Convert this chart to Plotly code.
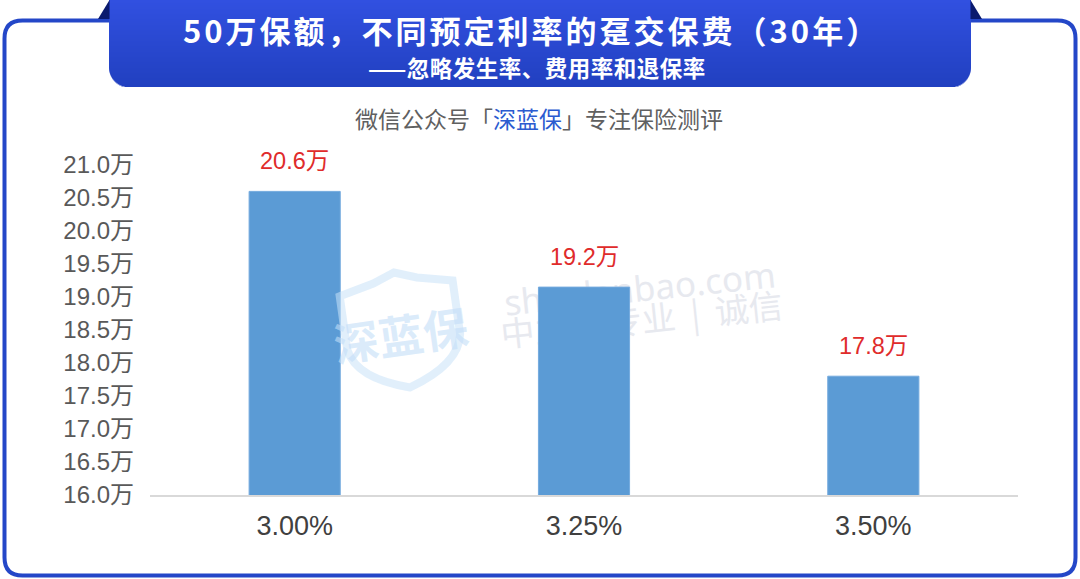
import math
import plotly.graph_objects as go

# ---- data ----
categories = ["3.00%", "3.25%", "3.50%"]
premiums = [20.6, 19.15, 17.8]          # 万元
premium_labels = ["20.6万", "19.2万", "17.8万"]
y_ticks = [16.0, 16.5, 17.0, 17.5, 18.0, 18.5, 19.0, 19.5, 20.0, 20.5, 21.0]
y_tick_text = [f"{v:.1f}万" for v in y_ticks]

title = "50万保额，不同预定利率的趸交保费（30年）"
subtitle = "——忽略发生率、费用率和退保率"

# ---- geometry helpers (pixel -> paper) ----
W, H = 1080, 579
L, R, T, B = 150, 62, 165, 84
PW, PH = W - L - R, H - T - B


def px(x):
    return (x - L) / PW


def py(y):
    return (H - B - y) / PH


CJK = "Noto Sans CJK SC"
NUMF = "Liberation Sans, Noto Sans CJK SC"

fig = go.Figure()
fig.add_trace(go.Bar(
    x=categories, y=premiums,
    marker=dict(color="#5B9BD5", line=dict(color="#74aade", width=1)),
    width=0.315, hoverinfo="skip",
))

shapes = []

# outer rounded border
x0, y0, x1, y1, r = 4.5, 20.5, 1075.5, 575.5, 18
path = (f"M {px(x0+r)},{py(y0)} L {px(x1-r)},{py(y0)} Q {px(x1)},{py(y0)} {px(x1)},{py(y0+r)} "
        f"L {px(x1)},{py(y1-r)} Q {px(x1)},{py(y1)} {px(x1-r)},{py(y1)} "
        f"L {px(x0+r)},{py(y1)} Q {px(x0)},{py(y1)} {px(x0)},{py(y1-r)} "
        f"L {px(x0)},{py(y0+r)} Q {px(x0)},{py(y0)} {px(x0+r)},{py(y0)} Z")
shapes.append(dict(type="path", xref="paper", yref="paper", path=path,
                   line=dict(color="#2447C8", width=4), fillcolor="rgba(0,0,0,0)", layer="above"))

# banner with vertical gradient and rounded bottom corners
bx0, bx1, by1, br = 109, 971, 87, 20
c_top = (49, 80, 224)
c_bot = (33, 64, 192)
for i in range(by1):
    ym = i + 0.5
    inset = 0.0
    if ym > by1 - br:
        dy = ym - (by1 - br)
        inset = br - math.sqrt(max(br * br - dy * dy, 0))
    t = i / (by1 - 1)
    col = tuple(round(c_top[k] + (c_bot[k] - c_top[k]) * t) for k in range(3))
    shapes.append(dict(type="rect", xref="paper", yref="paper",
                       x0=px(bx0 + inset), x1=px(bx1 - inset),
                       y0=py(i), y1=py(min(i + 1.6, by1)),
                       line=dict(width=0), fillcolor=f"rgb{col}", layer="above"))

# fold triangles
shapes.append(dict(type="path", xref="paper", yref="paper",
                   path=f"M {px(98)},{py(19)} L {px(109.5)},{py(0)} L {px(109.5)},{py(19)} Z",
                   line=dict(width=0), fillcolor="#0B1B6E", layer="above"))
shapes.append(dict(type="path", xref="paper", yref="paper",
                   path=f"M {px(970.5)},{py(0)} L {px(982)},{py(19)} L {px(970.5)},{py(19)} Z",
                   line=dict(width=0), fillcolor="#0B1B6E", layer="above"))

# watermark shield (decorative)
cx, cy, th = 402, 330, math.radians(8)
pts = [(-57, -42), (-22, -50), (0, -58), (22, -50), (57, -42), (57, 12)]


def rot(p):
    x, y = p
    return (cx + x * math.cos(th) + y * math.sin(th), cy - x * math.sin(th) + y * math.cos(th))


rp = [rot(p) for p in pts]
q1 = rot((52, 42))
bot = rot((0, 58))
q2 = rot((-52, 42))
lft = rot((-57, 12))
sp = f"M {px(rp[0][0])},{py(rp[0][1])} " + " ".join(f"L {px(a)},{py(b)}" for a, b in rp[1:])
sp += f" Q {px(q1[0])},{py(q1[1])} {px(bot[0])},{py(bot[1])} Q {px(q2[0])},{py(q2[1])} {px(lft[0])},{py(lft[1])} Z"
shapes.append(dict(type="path", xref="paper", yref="paper", path=sp,
                   line=dict(color="rgba(200,225,248,0.55)", width=8), fillcolor="rgba(0,0,0,0)", layer="above"))

# watermark text (below bars)
shapes.append(dict(type="rect", xref="paper", yref="paper",
                   x0=px(500), x1=px(780), y0=py(310), y1=py(270),
                   line=dict(width=0), fillcolor="rgba(0,0,0,0)", layer="below",
                   label=dict(text="shenlanbao.com", textangle=-6, textposition="middle center",
                              font=dict(family="Noto Sans", size=35, color="#e7e9ef"))))
shapes.append(dict(type="rect", xref="paper", yref="paper",
                   x0=px(500), x1=px(784), y0=py(343), y1=py(303),
                   line=dict(width=0), fillcolor="rgba(0,0,0,0)", layer="below",
                   label=dict(text="中立\u00a0\u00a0|\u00a0\u00a0专业\u00a0\u00a0|\u00a0\u00a0诚信", textangle=-6,
                              textposition="middle center",
                              font=dict(family=CJK, size=34, color="#e7e9ef"))))

annotations = []
annotations.append(dict(xref="paper", yref="paper", x=px(531), y=py(30),
                        text=f"<span style='letter-spacing:3px'><b>{title}</b></span>",
                        showarrow=False, xanchor="center", yanchor="middle",
                        font=dict(family=CJK, size=31, color="white")))
annotations.append(dict(xref="paper", yref="paper", x=px(537), y=py(67),
                        text=f"<span style='letter-spacing:0.5px'><b>{subtitle}</b></span>",
                        showarrow=False, xanchor="center", yanchor="middle",
                        font=dict(family=CJK, size=22.5, color="white")))
annotations.append(dict(xref="paper", yref="paper", x=px(539), y=py(118),
                        text="微信公众号「<span style='color:#2B5BD0'>深蓝保</span>」专注保险测评",
                        showarrow=False, xanchor="center", yanchor="middle",
                        font=dict(family=CJK, size=23, color="#606060")))
# shield text
annotations.append(dict(xref="paper", yref="paper", x=px(400), y=py(333), text="<b>深蓝保</b>",
                        showarrow=False, xanchor="center", yanchor="middle", textangle=-8,
                        font=dict(family=CJK, size=45, color="rgba(195,222,248,0.6)")))

# value labels
for c, v, lab in zip(categories, premiums, premium_labels):
    annotations.append(dict(x=c, y=v, xref="x", yref="y", text=lab, showarrow=False,
                            yanchor="middle", yshift=30,
                            font=dict(family=NUMF, size=23.5, color="#E02B2B")))

fig.update_layout(
    width=W, height=H,
    margin=dict(l=L, r=R, t=T, b=B, pad=0),
    paper_bgcolor="white", plot_bgcolor="rgba(0,0,0,0)",
    showlegend=False, bargap=0.685,
    shapes=shapes, annotations=annotations,
    xaxis=dict(type="category", range=[-0.5, 2.5], showline=True, linecolor="#D9D9D9", linewidth=2,
               showgrid=False, ticks="", ticklabelstandoff=6,
               tickfont=dict(family=NUMF, size=27, color="#404040"), fixedrange=True),
    yaxis=dict(range=[16, 21], tickvals=y_ticks, ticktext=y_tick_text, showgrid=False,
               zeroline=False, showline=False, ticks="", ticklabelstandoff=15,
               tickfont=dict(family=NUMF, size=24, color="#595959"), fixedrange=True),
)

fig.write_html("out.html", config={"displayModeBar": False},
               post_script="document.body.style.margin='0';document.body.style.padding='0';")
